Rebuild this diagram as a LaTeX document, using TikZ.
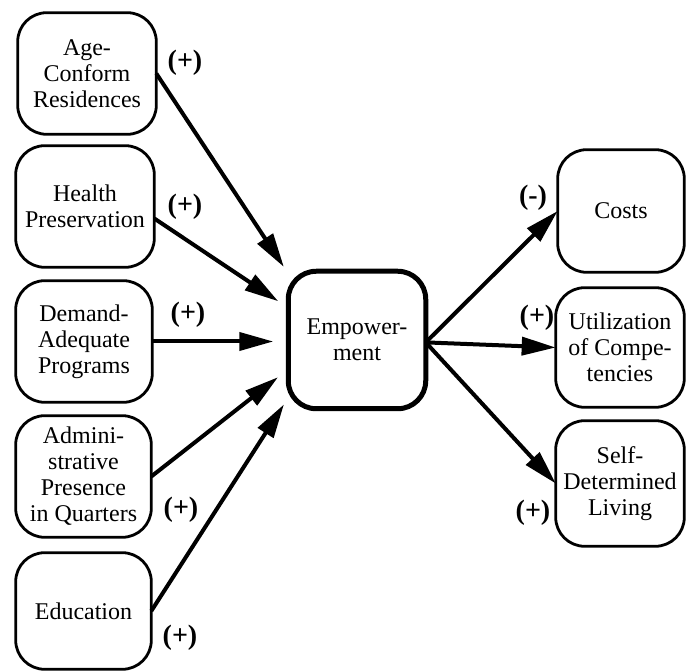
\documentclass[tikz,border=0pt]{standalone}
\usepackage{fontspec}
\setmainfont{Liberation Serif}
\usetikzlibrary{arrows.meta}
\begin{document}
\begin{tikzpicture}[x=0.5pt,y=-0.5pt,
  box/.style={draw, line width=1.4pt, rounded corners=14.5pt, align=center,
    inner sep=2pt, outer sep=0pt, font=\fontsize{12}{13}\selectfont},
  hub/.style={box, line width=2.5pt, rounded corners=14pt},
  arr/.style={line width=2pt, -{Triangle[length=17pt,width=9pt]}},
  sign/.style={font=\bfseries\fontsize{14}{16}\selectfont, inner sep=0pt}]
\useasboundingbox (0,0) rectangle (687,672);

% influencing factors
\node[box, minimum width=69.3pt, minimum height=60.8pt] (age) at (87,73.5) {Age-\\Conform\\Residences};
\node[box, minimum width=69.3pt, minimum height=60.8pt] (health) at (85,206.5) {Health\\Preservation};
\node[box, minimum width=68.3pt, minimum height=60.8pt] (demand) at (84,341.5) {Demand-\\Adequate\\Programs};
\node[box, minimum width=67.8pt, minimum height=60.8pt] (admin) at (83.5,476.5) {Admini-\\strative\\Presence\\in Quarters};
\node[box, minimum width=67.8pt, minimum height=58.3pt] (educ) at (83.5,611) {Education};

% central concept
\node[hub, minimum width=68.75pt, minimum height=68.75pt] (emp) at (357,340) {Empower-\\ment};

% outcomes
\node[box, minimum width=63.3pt, minimum height=61.3pt] (costs) at (621,211) {Costs};
\node[box, minimum width=64.3pt, minimum height=59.8pt] (util) at (620,347.5) {Utilization\\of Compe-\\tencies};
\node[box, minimum width=64.3pt, minimum height=62.8pt] (self) at (620,483.5) {Self-\\Determined\\Living};

% incoming effects
\draw[arr, shorten >=4pt] (age.east) -- (emp.136);
\draw[arr, shorten >=6pt] ([yshift=-6pt]health.east) -- (emp.155);
\draw[arr, shorten >=7.5pt] (demand) -- (demand -| emp.west);
\draw[arr, shorten >=6.5pt] (admin.east) -- (emp.203);
\draw[arr, shorten >=4pt] (educ.east) -- (emp.220);

% outgoing effects
\draw[arr] (emp.-2.5) -- (costs.west);
\draw[arr] (emp.-2.5) -- (util.west);
\draw[arr] (emp.-2.5) -- (self.west);

% signs of the effects
\node[sign] (s1) at (185,63) {(+)};
\node[sign] (s2) at (185,207) {(+)};
\node[sign] (s3) at (188,315) {(+)};
\node[sign] (s4) at (181,510) {(+)};
\node[sign] (s5) at (180,638) {(+)};
\node[sign] (s6) at (533,198) {(-)};
\node[sign] (s7) at (537,318) {(+)};
\node[sign] (s8) at (533,513) {(+)};
\end{tikzpicture}
\end{document}
